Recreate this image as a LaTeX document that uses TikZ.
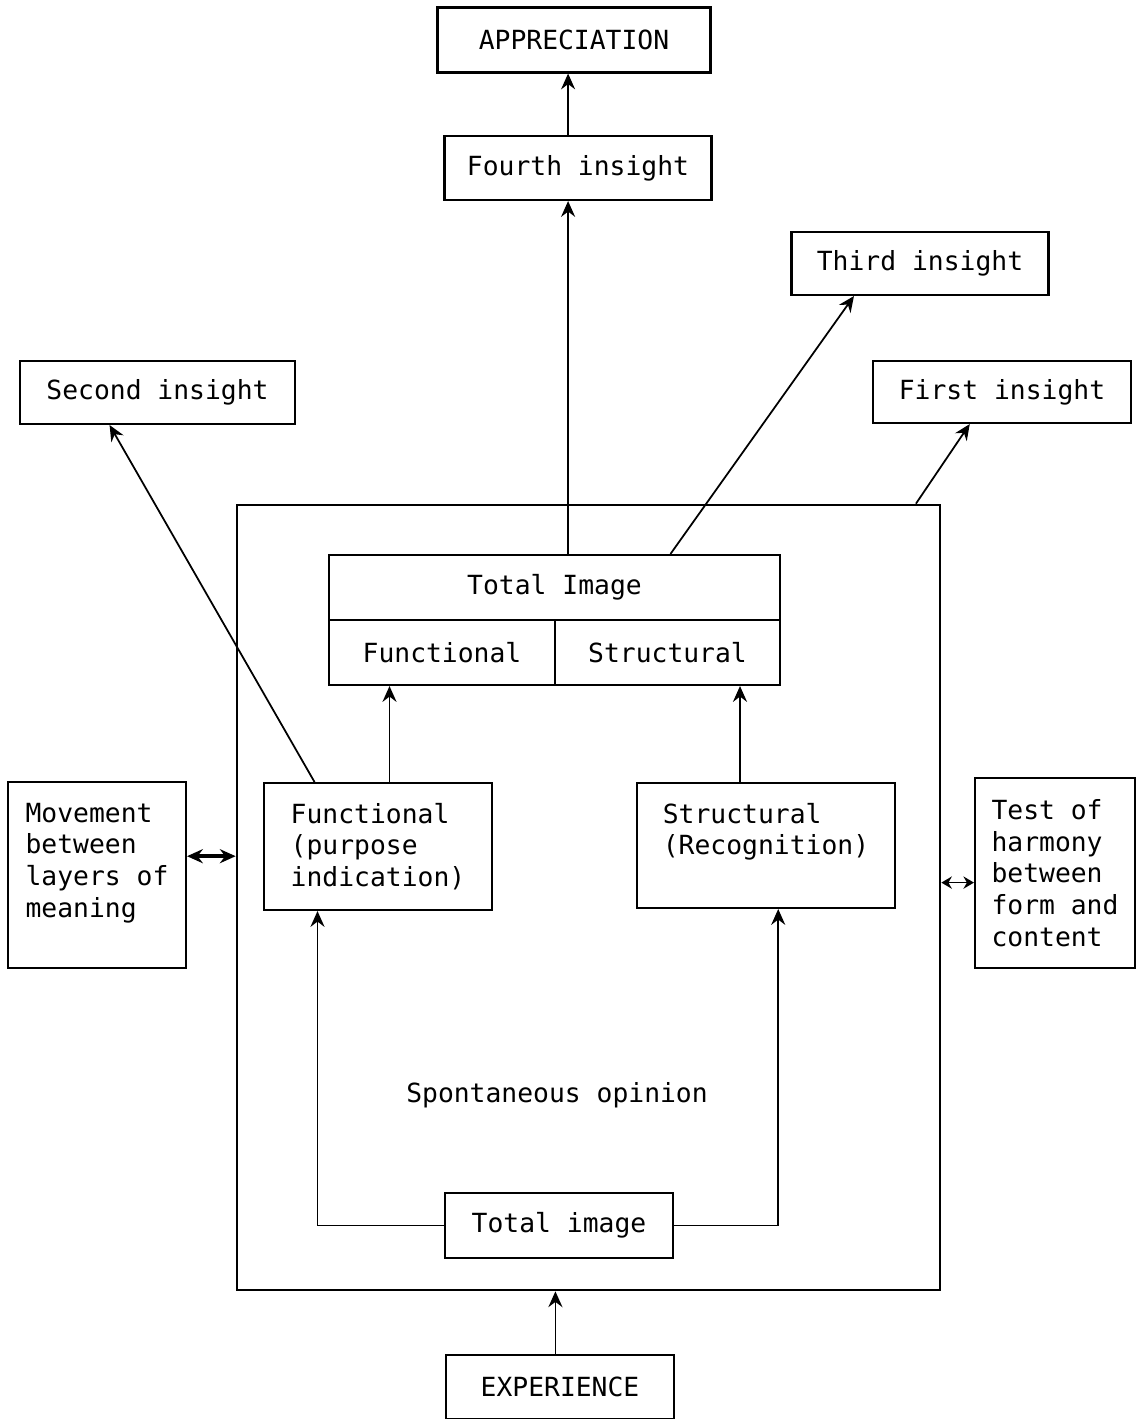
\documentclass[tikz,border=0pt]{standalone}
\usepackage{fontspec}
\setmonofont{DejaVu Sans Mono}
\usetikzlibrary{calc,arrows.meta}
\begin{document}
\begin{tikzpicture}[x=0.02cm,y=-0.02cm,>={Stealth[length=9pt,width=8pt,inset=3pt]},
	box/.style={draw,line width=1.2pt,inner sep=0pt,align=left,font=\ttfamily\fontsize{15}{18}\selectfont},
	lbl/.style={inner sep=0pt,font=\ttfamily\fontsize{15}{18}\selectfont},
	arr/.style={->,line width=1pt}]
	\useasboundingbox (0,0) rectangle (1137,1419);
	% outer frame
	\node[draw,line width=1.6pt,minimum width=14.06cm,minimum height=15.7cm] (outer) at (588.5,897.5) {};
	% insights
	\node[box,minimum width=5.46cm,minimum height=1.30cm] (appr) at (574,40) {APPRECIATION};
	\node[box,minimum width=5.34cm,minimum height=1.28cm] (fourth) at (578,168) {Fourth insight};
	\node[box,minimum width=5.14cm,minimum height=1.26cm] (third) at (920,263.5) {Third insight};
	\node[box,minimum width=5.50cm,minimum height=1.26cm] (second) at (157.5,392.5) {Second insight};
	\node[box,minimum width=5.16cm,minimum height=1.24cm] (first) at (1002,392) {First insight};
	% total image
	\node[box,minimum width=9.02cm,minimum height=1.30cm] (ti) at (554.5,587.5) {Total Image};
	\node[box,minimum width=4.52cm,minimum height=1.30cm] (tiF) at (442,652.5) {Functional};
	\node[box,minimum width=4.50cm,minimum height=1.30cm] (tiS) at (667.5,652.5) {Structural};
	\node[box,minimum width=4.56cm,minimum height=2.54cm] (func) at (378,846.5) {Functional\\(purpose\\indication)};
	\node[box,minimum width=5.16cm,minimum height=2.50cm] (struct) at (766,845.5) {Structural\\(Recognition)\\[1pt]};
	\node[box,minimum width=3.56cm,minimum height=3.72cm] (move) at (97,875) {Movement\\between\\layers of\\meaning\\[-1pt]};
	\node[box,minimum width=3.20cm,minimum height=3.80cm] (test) at (1055,873) {Test of\\harmony\\between\\form and\\content};
	\node[lbl] (spont) at (557,1095) {Spontaneous opinion};
	\node[box,minimum width=4.56cm,minimum height=1.30cm] (tot) at (559,1225.5) {Total image};
	\node[box,minimum width=4.56cm,minimum height=1.28cm] (exp) at (560,1387) {EXPERIENCE};
	% arrows
	\coordinate (a4) at ($(ti.north west)!0.53!(ti.north east)$);
	\draw[arr] (fourth.north -| a4)--(appr.south -| a4);
	\draw[arr] (a4)--(a4 |- fourth.south);
	\draw[arr] ($(ti.north west)!0.756!(ti.north east)$)--($(third.south west)!0.245!(third.south east)$);
	\draw[arr] ($(outer.north west)!0.964!(outer.north east)$)--($(first.south west)!0.376!(first.south east)$);
	\draw[arr] ($(func.north west)!0.224!(func.north east)$)--($(second.south west)!0.327!(second.south east)$);
	\coordinate (aF) at ($(func.north west)!0.55!(func.north east)$);
	\draw[arr] (aF)--(aF |- tiF.south);
	\coordinate (aS) at ($(struct.north west)!0.40!(struct.north east)$);
	\draw[arr] (aS)--(aS |- tiS.south);
	\draw[arr] (tot.west) -| ($(func.south west)!0.237!(func.south east)$);
	\draw[arr] (tot.east) -| ($(struct.south west)!0.547!(struct.south east)$);
	\coordinate (aE) at ($(exp.north west)!0.48!(exp.north east)$);
	\draw[arr] (aE)--(aE |- outer.south);
	\coordinate (aM) at ($(move.north east)!0.40!(move.south east)$);
	\draw[<->,line width=2.2pt] (aM)--(aM -| outer.west);
	\coordinate (aT) at ($(test.north west)!0.55!(test.south west)$);
	\draw[{Stealth[length=6pt,width=7pt,inset=2pt]}-{Stealth[length=6pt,width=7pt,inset=2pt]},line width=1pt] (aT -| outer.east)--(aT);
\end{tikzpicture}
\end{document}
